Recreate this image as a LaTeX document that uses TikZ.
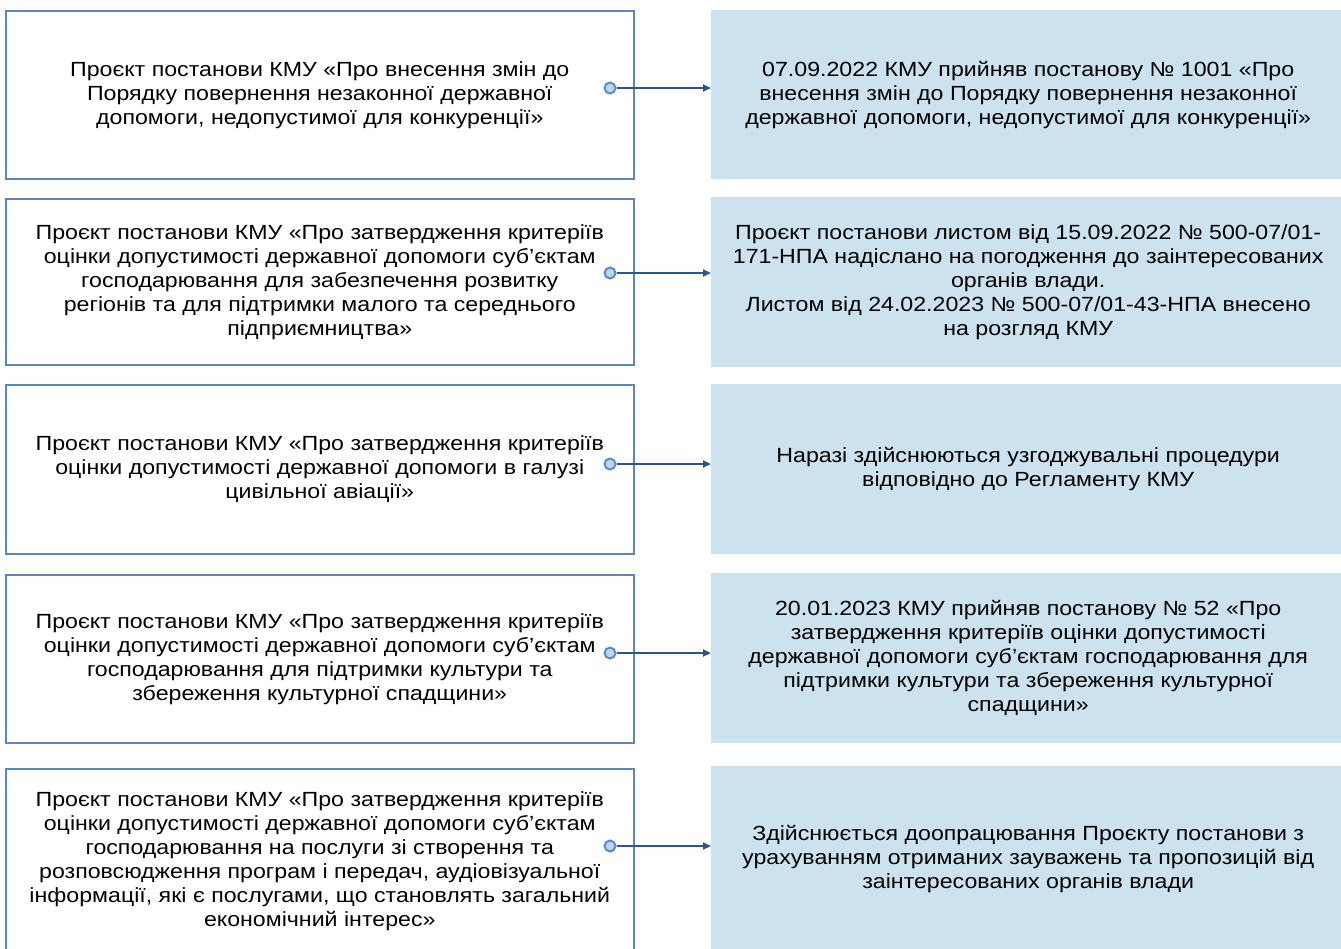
\documentclass[tikz,border=0pt]{standalone}
\usepackage{fontspec}
\setmainfont{Liberation Sans}[FakeStretch=1.13]
\usetikzlibrary{arrows.meta}
\definecolor{lborder}{RGB}{91,135,185}
\definecolor{rfill}{RGB}{204,226,238}
\definecolor{arrowc}{RGB}{47,85,135}
\definecolor{dotfill}{RGB}{190,214,236}
\definecolor{dotdraw}{RGB}{91,140,195}
\begin{document}
\begin{tikzpicture}[x=1pt,y=-1pt,
  txt/.style={align=center,font=\fontsize{20.5}{24}\selectfont,inner sep=0pt,text=black},
  lbox/.style={txt,draw=lborder,line width=2.5pt,fill=white,minimum width=628pt,anchor=north west},
  rbox/.style={txt,fill=rfill,draw=none,minimum width=634pt,anchor=north west},
  dot/.style={circle,draw=dotdraw,fill=dotfill,line width=2pt,minimum size=11pt,inner sep=0pt},
  conn/.style={draw=arrowc,line width=2pt,-{Triangle[length=8pt,width=7pt]}}
]
\useasboundingbox (0,0) rectangle (1341,948);

\node[lbox,minimum height=168pt] (l1) at (4.5,9.5) {Проєкт постанови КМУ «Про внесення змін до\\Порядку повернення незаконної державної\\допомоги, недопустимої для конкуренції»};
\node[lbox,minimum height=166pt] (l2) at (4.5,197.5) {Проєкт постанови КМУ «Про затвердження критеріїв\\оцінки допустимості державної допомоги суб’єктам\\господарювання для забезпечення розвитку\\регіонів та для підтримки малого та середнього\\підприємництва»};
\node[lbox,minimum height=169pt] (l3) at (4.5,383.5) {Проєкт постанови КМУ «Про затвердження критеріїв\\оцінки допустимості державної допомоги в галузі\\цивільної авіації»};
\node[lbox,minimum height=168pt] (l4) at (4.5,573.5) {Проєкт постанови КМУ «Про затвердження критеріїв\\оцінки допустимості державної допомоги суб’єктам\\господарювання для підтримки культури та\\збереження культурної спадщини»};
\node[lbox,minimum height=184pt] (l5) at (4.5,767.5) {Проєкт постанови КМУ «Про затвердження критеріїв\\оцінки допустимості державної допомоги суб’єктам\\господарювання на послуги зі створення та\\розповсюдження програм і передач, аудіовізуальної\\інформації, які є послугами, що становлять загальний\\економічний інтерес»};

\node[rbox,minimum height=169pt] (r1) at (711,10) {07.09.2022 КМУ прийняв постанову № 1001 «Про\\внесення змін до Порядку повернення незаконної\\державної допомоги, недопустимої для конкуренції»};
\node[rbox,minimum height=170pt] (r2) at (711,197) {Проєкт постанови листом від 15.09.2022 № 500-07/01-\\171-НПА надіслано на погодження до заінтересованих\\органів влади.\\Листом від 24.02.2023 № 500-07/01-43-НПА внесено\\на розгляд КМУ};
\node[rbox,minimum height=170pt] (r3) at (711,384) {Наразі здійснюються узгоджувальні процедури\\відповідно до Регламенту КМУ};
\node[rbox,minimum height=170pt] (r4) at (711,573) {20.01.2023 КМУ прийняв постанову № 52 «Про\\затвердження критеріїв оцінки допустимості\\державної допомоги суб’єктам господарювання для\\підтримки культури та збереження культурної\\спадщини»};
\node[rbox,minimum height=186pt] (r5) at (711,766) {Здійснюється доопрацювання Проєкту постанови з\\урахуванням отриманих зауважень та пропозицій від\\заінтересованих органів влади};

\node[dot] (c1) at (610,88) {};
\node[dot] (c2) at (610,273) {};
\node[dot] (c3) at (610,464) {};
\node[dot] (c4) at (610,653) {};
\node[dot] (c5) at (610,846) {};

\foreach \i in {1,...,5}{
  \draw[conn] (c\i.east) -- (c\i -| r\i.west);
}
\end{tikzpicture}
\end{document}
